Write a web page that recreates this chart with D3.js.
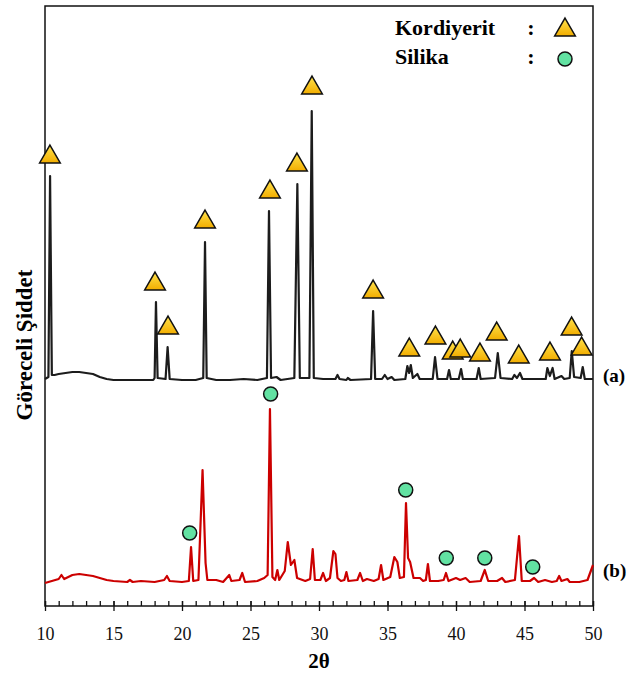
<!DOCTYPE html>
<html>
<head>
<meta charset="utf-8">
<script src="https://cdn.jsdelivr.net/npm/d3@7"></script>
<style>
  body { margin: 0; background: #fff; }
  text { font-family: "Liberation Serif", "Times New Roman", serif; }
</style>
</head>
<body>
<svg id="xrd" width="639" height="675"></svg>
<script>
// 2θ ticks
const majorTicks = [10, 15, 20, 25, 30, 35, 40, 45, 50];

// trace (a): [2θ, intensity above its own baseline]
const traceA = [
  [10.0, 2], [10.25, 4], [10.37, 205], [10.5, 6], [10.7, 6], [11.0, 7], [11.5, 8], [12.0, 9],
  [12.5, 9], [13.0, 8], [13.5, 7], [14.0, 4], [14.5, 2], [15.0, 1], [16.0, 1], [17.0, 1],
  [17.9, 1], [18.0, 3], [18.1, 79], [18.22, 3], [18.8, 2], [18.95, 34], [19.1, 2], [20.0, 1],
  [21.0, 1], [21.55, 3], [21.68, 139], [21.8, 3], [22.5, 1], [23.5, 1], [24.5, 2], [25.5, 1],
  [26.2, 3], [26.35, 170], [26.5, 3], [26.9, 4], [27.2, 1], [28.2, 3], [28.42, 197], [28.6, 3],
  [29.3, 3], [29.47, 270], [29.62, 3], [30.3, 2], [31.2, 2], [31.35, 6], [31.5, 2], [32.0, 1],
  [32.1, 3], [32.3, 1], [33.8, 2], [33.95, 70], [34.1, 2], [34.6, 2], [34.8, 6], [35.0, 2],
  [35.3, 4], [35.5, 1], [36.3, 2], [36.45, 15], [36.58, 8], [36.7, 16], [36.85, 3], [37.18, 7],
  [37.35, 2], [38.3, 2], [38.47, 24], [38.65, 2], [39.35, 2], [39.49, 11], [39.62, 2], [40.2, 2],
  [40.37, 12], [40.5, 2], [41.5, 2], [41.66, 13], [41.8, 2], [42.85, 3], [43.05, 28], [43.25, 3],
  [44.1, 2], [44.26, 6], [44.45, 3], [44.67, 8], [44.85, 2], [45.5, 2], [46.55, 2], [46.67, 13],
  [46.85, 5], [47.05, 13], [47.2, 2], [47.7, 5], [47.9, 2], [48.3, 3], [48.45, 30], [48.62, 4],
  [49.1, 3], [49.25, 14], [49.4, 2], [50.0, 2]
];

// trace (b)
const traceB = [
  [10.0, 0], [10.5, 2], [11.0, 4], [11.2, 8], [11.4, 4], [12.0, 8], [12.5, 9], [13.0, 8],
  [13.5, 7], [14.0, 5], [14.5, 3], [15.0, 2], [16.0, 1], [16.2, 3], [16.4, 1], [17.0, 2],
  [18.0, 1], [18.7, 3], [18.9, 7], [19.1, 2], [20.0, 1], [20.5, 2], [20.66, 36], [20.82, 2],
  [21.2, 3], [21.5, 113], [21.72, 20], [21.85, 3], [22.5, 3], [23.0, 1], [23.45, 8], [23.6, 2],
  [24.2, 3], [24.4, 10], [24.6, 1], [25.5, 2], [26.0, 5], [26.25, 8], [26.42, 174], [26.6, 6],
  [26.8, 3], [26.96, 13], [27.1, 3], [27.5, 12], [27.72, 41], [27.95, 18], [28.2, 23], [28.4, 5],
  [29.0, 2], [29.35, 4], [29.54, 34], [29.7, 3], [30.1, 3], [30.3, 10], [30.5, 2], [30.8, 5],
  [31.05, 32], [31.2, 29], [31.35, 5], [31.6, 2], [31.85, 3], [32.0, 11], [32.15, 2], [32.8, 3],
  [33.0, 10], [33.2, 2], [33.5, 4], [34.0, 2], [34.35, 4], [34.53, 18], [34.7, 3], [35.2, 6],
  [35.5, 26], [35.72, 21], [35.9, 5], [36.2, 6], [36.35, 80], [36.5, 25], [36.65, 21], [36.9, 5],
  [37.37, 5], [37.6, 2], [37.8, 3], [37.95, 19], [38.1, 2], [38.7, 2], [39.1, 3], [39.27, 10],
  [39.45, 2], [40.0, 5], [40.3, 3], [40.7, 5], [41.0, 1], [41.8, 2], [42.1, 13], [42.35, 2],
  [43.0, 2], [43.36, 5], [43.6, 1], [44.3, 3], [44.6, 47], [44.8, 2], [45.4, 2], [45.7, 5],
  [46.0, 1], [46.5, 3], [47.0, 1], [47.35, 2], [47.53, 7], [47.7, 2], [48.13, 4], [48.3, 1],
  [49.0, 1], [49.6, 3], [50.0, 18]
];

// stacking offsets of the two patterns
const offsetA = 225;
const offsetB = 23;

// Kordiyerit markers on (a): [2θ, height]
const kordiyerit = [
  [10.36, 224], [18.03, 97], [18.98, 53], [21.68, 159], [26.42, 189], [28.39, 216], [29.49, 293],
  [33.95, 89], [36.59, 31], [38.5, 43], [39.76, 28], [40.31, 30], [41.75, 26], [42.97, 47],
  [44.58, 24], [46.86, 27], [48.44, 52], [49.17, 32]
];

// Silika markers on (b)
const silika = [
  [20.56, 50], [26.47, 189], [36.33, 93], [39.29, 25], [42.1, 25], [45.6, 16]
];

const svg = d3.select("#xrd");
const width = +svg.attr("width");
const height = +svg.attr("height");
const margin = { top: 6, right: 46, bottom: 69, left: 45 };
const innerWidth = width - margin.left - margin.right;
const innerHeight = height - margin.top - margin.bottom;

const defs = svg.append("defs");
const triGrad = defs.append("linearGradient")
  .attr("id", "triGrad").attr("x1", 0).attr("y1", 0).attr("x2", 0).attr("y2", 1);
triGrad.append("stop").attr("offset", "0%").attr("stop-color", "#ffe34d");
triGrad.append("stop").attr("offset", "100%").attr("stop-color", "#f2ad00");

const g = svg.append("g")
  .attr("transform", `translate(${margin.left},${margin.top})`);

const x = d3.scaleLinear().domain([10, 50]).range([0, innerWidth]);
const y = d3.scaleLinear().domain([0, 600]).range([innerHeight, 0]);

// frame
g.append("rect")
  .attr("width", innerWidth)
  .attr("height", innerHeight)
  .attr("fill", "none")
  .attr("stroke", "#111")
  .attr("stroke-width", 1.5);

// minor ticks (inward)
const minorAxis = g.append("g")
  .attr("transform", `translate(0,${innerHeight})`)
  .call(d3.axisBottom(x).tickValues(d3.range(10, 51, 1)).tickSizeInner(-5).tickSizeOuter(0).tickFormat(""));
minorAxis.select(".domain").remove();

// major ticks cross the axis
const majorAxis = g.append("g")
  .attr("transform", `translate(0,${innerHeight})`)
  .call(d3.axisBottom(x).tickValues(majorTicks).tickSizeOuter(0).tickPadding(15).tickFormat(d3.format("d")));
majorAxis.select(".domain").remove();
majorAxis.selectAll(".tick line").attr("y1", -5).attr("y2", 5);
majorAxis.selectAll("line").attr("stroke", "#111").attr("stroke-width", 1.3);
minorAxis.selectAll("line").attr("stroke", "#111").attr("stroke-width", 1.3);
majorAxis.selectAll("text")
  .style("font-size", "18px")
  .style("font-family", "'Liberation Serif', serif")
  .attr("fill", "#111");

const line = offset => d3.line()
  .x(d => x(d[0]))
  .y(d => y(d[1] + offset));

g.append("path")
  .datum(traceA)
  .attr("d", line(offsetA))
  .attr("fill", "none")
  .attr("stroke", "#1c1c1c")
  .attr("stroke-width", 2.2)
  .attr("stroke-linejoin", "round");

g.append("path")
  .datum(traceB)
  .attr("d", line(offsetB))
  .attr("fill", "none")
  .attr("stroke", "#cc0000")
  .attr("stroke-width", 2.2)
  .attr("stroke-linejoin", "round");

const tri = d3.symbol(d3.symbolTriangle).size(185);

g.selectAll(".kordiyerit")
  .data(kordiyerit)
  .enter()
  .append("path")
  .attr("class", "kordiyerit")
  .attr("d", tri)
  .attr("transform", d => `translate(${x(d[0])},${y(d[1] + offsetA)})`)
  .attr("fill", "url(#triGrad)")
  .attr("stroke", "#111")
  .attr("stroke-width", 1.5);

g.selectAll(".silika")
  .data(silika)
  .enter()
  .append("circle")
  .attr("class", "silika")
  .attr("cx", d => x(d[0]))
  .attr("cy", d => y(d[1] + offsetB))
  .attr("r", 7)
  .attr("fill", "#62e2a2")
  .attr("stroke", "#111")
  .attr("stroke-width", 1.5);

// legend
const legend = svg.append("g");
legend.append("text").attr("x", 395).attr("y", 35).text("Kordiyerit")
  .style("font-size", "22px").style("font-weight", "bold");
legend.append("text").attr("x", 395).attr("y", 64).text("Silika")
  .style("font-size", "22px").style("font-weight", "bold");
legend.append("text").attr("x", 531).attr("y", 35).attr("text-anchor", "middle").text(":")
  .style("font-size", "22px").style("font-weight", "bold");
legend.append("text").attr("x", 531).attr("y", 64).attr("text-anchor", "middle").text(":")
  .style("font-size", "22px").style("font-weight", "bold");
legend.append("path").attr("d", tri).attr("transform", "translate(565,30)")
  .attr("fill", "url(#triGrad)").attr("stroke", "#111").attr("stroke-width", 1.5);
legend.append("circle").attr("cx", 565).attr("cy", 59).attr("r", 7)
  .attr("fill", "#62e2a2").attr("stroke", "#111").attr("stroke-width", 1.5);

// pattern labels
svg.append("text").attr("x", 603).attr("y", margin.top + y(offsetA) + 1).text("(a)")
  .style("font-size", "19px").style("font-weight", "bold");
svg.append("text").attr("x", 603).attr("y", margin.top + y(offsetB) - 6).text("(b)")
  .style("font-size", "19px").style("font-weight", "bold");

// axis titles
svg.append("text")
  .attr("x", margin.left + innerWidth / 2)
  .attr("y", 668)
  .attr("text-anchor", "middle")
  .text("2θ")
  .style("font-size", "21px")
  .style("font-weight", "bold");

svg.append("text")
  .attr("transform", "translate(32,345) rotate(-90)")
  .attr("text-anchor", "middle")
  .text("Göreceli Şiddet")
  .style("font-size", "23px")
  .style("font-weight", "bold");
</script>
</body>
</html>
